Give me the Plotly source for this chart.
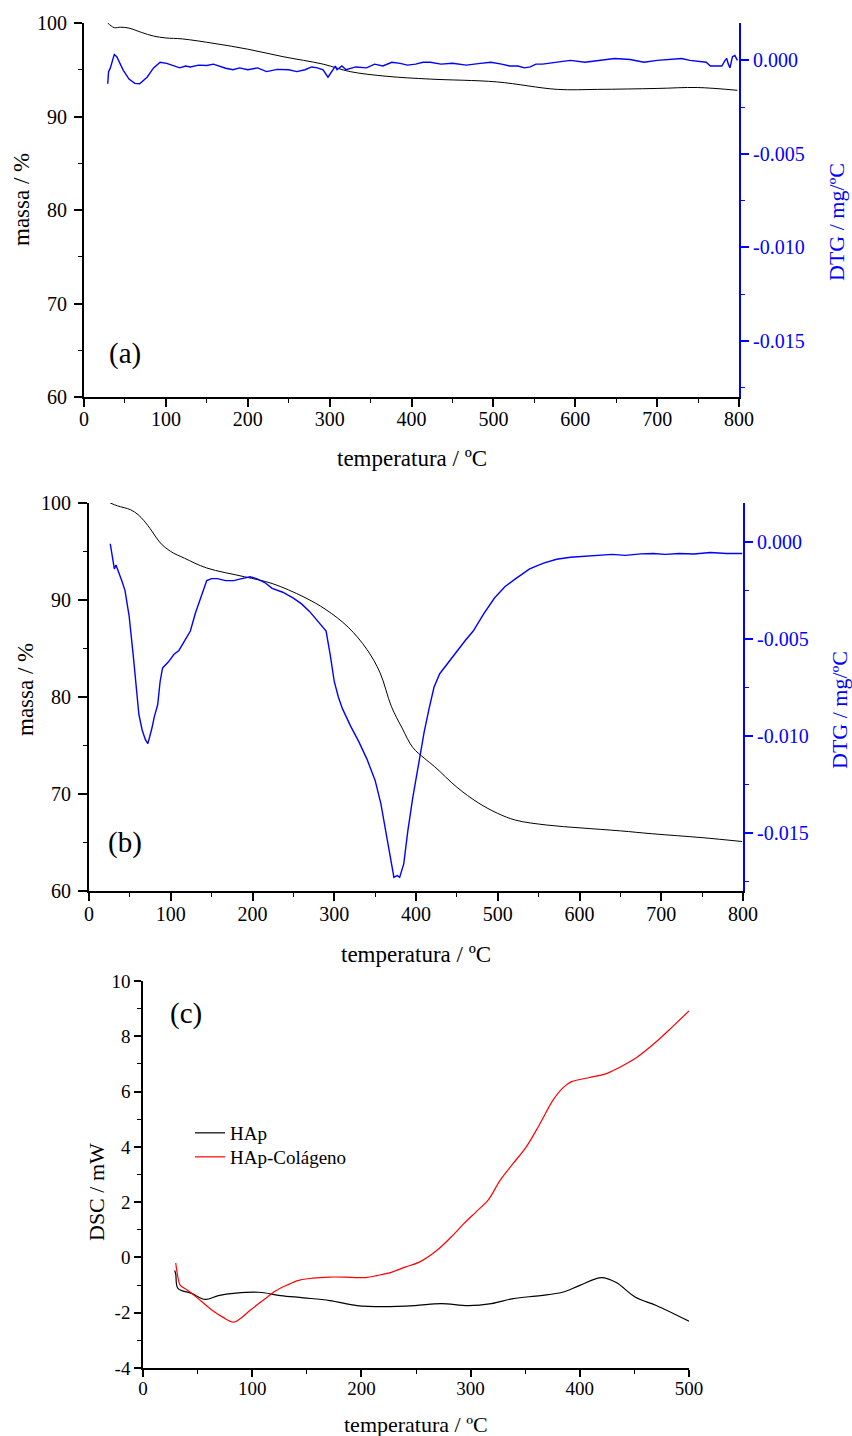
import plotly.graph_objects as go

# ---------------- data ----------------
# Panel (a): HAp TG / DTG
Ta_mass = [29, 33, 37, 45, 55, 70, 85, 100, 120, 160, 200, 243, 292, 325, 370, 423, 504, 578, 627, 700, 749, 798]
Ma = [100.0, 99.7, 99.5, 99.55, 99.45, 99.0, 98.6, 98.4, 98.3, 97.8, 97.2, 96.4, 95.6, 94.8, 94.3, 94.0, 93.7, 92.9, 92.9, 93.0, 93.1, 92.8]
Ta_dtg = [29, 30, 32, 35, 37, 40, 48, 55, 62, 68, 77, 85, 93, 101, 110, 117, 124, 130, 140, 150,
          158, 165, 173, 182, 190, 200, 212, 223, 236, 250, 260, 270, 278, 285, 292, 298, 303, 307, 309, 315,
          320, 332, 345, 355, 365, 376, 386, 395, 405, 414, 423, 436, 450, 467, 484, 497, 510, 520, 530, 538,
          545, 552, 560, 577, 594, 612, 630, 648, 667, 684, 700, 715, 730, 740, 749, 755, 760, 765, 772, 779,
          783, 785, 787, 789, 792, 795, 798]
Da = [-0.00125, -0.0006, -0.00043, 0.0, 0.00032, 0.0002, -0.00053, -0.001, -0.00123, -0.00125,
      -0.0009, -0.0004, -0.0001, -0.00016, -0.0003, -0.0004, -0.0003, -0.00035, -0.00025, -0.00027,
      -0.0002, -0.0003, -0.00042, -0.0005, -0.0004, -0.0005, -0.0004, -0.0006, -0.00048, -0.0005,
      -0.0006, -0.0005, -0.00035, -0.0004, -0.0005, -0.0009, -0.0006, -0.0003, -0.0005, -0.0003,
      -0.0005, -0.00035, -0.0004, -0.0002, -0.0003, -0.0001, -0.00016, -0.00025, -0.0002, -0.0001,
      -0.0001, -0.0002, -0.00015, -0.00025, -0.00016, -0.0001, -0.0002, -0.0003, -0.0003, -0.0004,
      -0.00035, -0.0002, -0.0002, -0.0001, 0.0, -0.0001, 0.0, 0.0001, 0.00005, -0.0001,
      0.0, 0.00005, 0.0001, 0.0, -0.00005, -0.0001, -0.0001, -0.0003, -0.0003, -0.0003,
      0.0, 0.0001, -0.0002, -0.0004, 0.0002, 0.00027, 0.0]

# Panel (b): HAp-Colágeno TG / DTG
Tb_mass = [26, 35, 51, 60, 67, 77, 87, 100, 117, 144, 190, 224, 263, 290, 317, 340, 356, 370, 383, 396,
           410, 423, 450, 476, 500, 522, 560, 602, 650, 689, 750, 799]
Mb = [100.0, 99.7, 99.3, 98.8, 98.2, 97.1, 95.9, 95.0, 94.3, 93.3, 92.4, 91.7, 90.3, 89.0, 87.2, 84.9, 82.5, 79.0, 76.8, 74.8,
      73.7, 72.8, 70.7, 69.1, 68.0, 67.3, 66.8, 66.5, 66.2, 65.9, 65.5, 65.1]
Tb_dtg = [26, 27, 29, 31, 33, 36, 40, 44, 49, 54, 57, 61, 65, 69, 72, 74, 77, 80, 84, 87,
          90, 97, 104, 110, 117, 124, 130, 137, 144, 150, 157, 167, 177, 187, 197, 205, 215, 224, 237, 250,
          260, 270, 280, 290, 295, 300, 305, 310, 320, 330, 340, 350, 357, 363, 368, 373, 377, 380, 385, 390,
          396, 403, 410, 416, 422, 429, 440, 450, 460, 470, 483, 496, 509, 522, 539, 556, 572, 589, 605, 620,
          640, 656, 675, 690, 705, 722, 740, 760, 780, 799]
Db = [-0.0001, -0.0004, -0.001, -0.0014, -0.0012, -0.0015, -0.002, -0.0025, -0.0038, -0.0058,
      -0.0072, -0.0089, -0.0097, -0.0102, -0.0104, -0.0101, -0.0096, -0.009, -0.0084, -0.0072,
      -0.0065, -0.0062, -0.0058, -0.0056, -0.0051, -0.0046, -0.0037, -0.0028, -0.002, -0.0019,
      -0.0019, -0.002, -0.002, -0.0019, -0.0018, -0.0019, -0.0021, -0.0024, -0.0026, -0.0029,
      -0.0032, -0.0036, -0.0041, -0.0046, -0.0058, -0.0072, -0.008, -0.0086, -0.0095, -0.0103,
      -0.0112, -0.0123, -0.0135, -0.0149, -0.016, -0.0173, -0.0172, -0.0173, -0.0166, -0.0149,
      -0.0132, -0.0114, -0.0098, -0.0086, -0.0075, -0.0068, -0.0062, -0.0056, -0.0051, -0.0046,
      -0.0037, -0.0029, -0.0023, -0.0019, -0.0014, -0.0011, -0.0009, -0.0008, -0.00075, -0.0007,
      -0.00065, -0.0007, -0.00062, -0.0006, -0.00065, -0.0006, -0.00063, -0.00055, -0.0006, -0.0006]

# Panel (c): DSC
Tc_hap = [29, 30, 32, 44.5, 57, 69, 85, 106, 126, 147, 171, 196, 220, 249, 273, 298, 319, 339, 364, 384,
          400, 420, 433, 451, 470, 500]
Hap = [-0.47, -0.6, -1.12, -1.3, -1.52, -1.38, -1.29, -1.26, -1.38, -1.46, -1.56, -1.74, -1.78, -1.74, -1.67, -1.74, -1.67, -1.49, -1.38, -1.26,
       -1.01, -0.73, -0.9, -1.44, -1.74, -2.31]
Tc_col = [30, 31, 33, 34, 43, 52.6, 63, 73, 83, 89.5, 97, 106, 114, 122, 132, 142.6, 155, 171, 190, 204,
          215, 228, 240, 253, 269, 282, 294, 305, 316, 327, 339, 351, 363, 375.5, 385, 392, 408, 425, 440, 453,
          470, 485, 500]
Col = [-0.2, -0.5, -0.9, -1.0, -1.25, -1.56, -1.9, -2.16, -2.34, -2.2, -1.95, -1.67, -1.43, -1.2, -1.0, -0.83, -0.75, -0.71, -0.72, -0.73,
       -0.65, -0.53, -0.35, -0.17, 0.25, 0.73, 1.23, 1.65, 2.07, 2.79, 3.4, 4.0, 4.8, 5.69, 6.15, 6.35, 6.5, 6.66, 6.95, 7.26,
       7.8, 8.35, 8.92]

dtg_tickvals = [-0.015, -0.010, -0.005, 0.0]
dtg_ticktext = ["-0.015", "-0.010", "-0.005", "0.000"]
dsc_tickvals = [-4, -2, 0, 2, 4, 6, 8, 10]
dsc_ticktext = ["-4", "-2", "0", "2", "4", "6", "8", "10"]

# ---------------- figure ----------------
W, H = 852, 1436
FONT = "Liberation Serif"
BLUE = "#0000FF"

def px(x):
    return x / W

def py(y):
    return 1 - y / H

fig = go.Figure()

fig.add_trace(go.Scatter(x=Ta_mass, y=Ma, mode="lines", line=dict(color="black", width=1, shape="spline"),
                         xaxis="x", yaxis="y", showlegend=False))
fig.add_trace(go.Scatter(x=Ta_dtg, y=Da, mode="lines", line=dict(color=BLUE, width=1.4),
                         xaxis="x", yaxis="y2", showlegend=False))
fig.add_trace(go.Scatter(x=Tb_mass, y=Mb, mode="lines", line=dict(color="black", width=1, shape="spline"),
                         xaxis="x2", yaxis="y3", showlegend=False))
fig.add_trace(go.Scatter(x=Tb_dtg, y=Db, mode="lines", line=dict(color=BLUE, width=1.4),
                         xaxis="x2", yaxis="y4", showlegend=False))
fig.add_trace(go.Scatter(x=Tc_hap, y=Hap, mode="lines", name="HAp", line=dict(color="black", width=1.2, shape="spline"),
                         xaxis="x3", yaxis="y5", legend="legend"))
fig.add_trace(go.Scatter(x=Tc_col, y=Col, mode="lines", name="HAp-Colágeno", line=dict(color="red", width=1.2, shape="spline"),
                         xaxis="x3", yaxis="y5", legend="legend2"))

def tf(size, color="black"):
    return dict(family=FONT, size=size, color=color)

def xax(domain, anchor, rng, dtick, minor, ticklen, standoff, fs):
    return dict(domain=domain, anchor=anchor, range=rng, tick0=0, dtick=dtick, showgrid=False, zeroline=False,
                automargin=False, ticklabelstandoff=standoff,
                showline=True, linecolor="black", linewidth=2, ticks="outside", ticklen=ticklen, tickwidth=1.5,
                tickcolor="black", tickfont=tf(fs),
                minor=dict(ticks="outside", ticklen=4, tickwidth=1, tickcolor="black", dtick=minor, tick0=0))

def yax(domain, anchor, rng, dtick, minor, ticklen, standoff, fs, lw=2):
    return dict(domain=domain, anchor=anchor, range=rng, tick0=0, dtick=dtick, showgrid=False, zeroline=False,
                automargin=False, ticklabelstandoff=standoff,
                showline=True, linecolor="black", linewidth=lw, ticks="outside", ticklen=ticklen, tickwidth=1.5,
                tickcolor="black", tickfont=tf(fs),
                minor=dict(ticks="outside", ticklen=4, tickwidth=1, tickcolor="black", dtick=minor, tick0=0))

def y2ax(overlay, anchor, fs):
    return dict(overlaying=overlay, anchor=anchor, side="right", range=[-0.018, 0.002],
                tickvals=dtg_tickvals, ticktext=dtg_ticktext, showgrid=False, zeroline=False,
                automargin=False, ticklabelstandoff=0,
                showline=True, linecolor=BLUE, linewidth=2, ticks="outside", ticklen=8, tickwidth=1.5,
                tickcolor=BLUE, tickfont=tf(fs, BLUE),
                minor=dict(ticks="outside", ticklen=4, tickwidth=1, tickcolor=BLUE,
                           tickvals=[-0.0175, -0.0125, -0.0075, -0.0025]))

fig.update_layout(
    width=W, height=H, margin=dict(l=0, r=0, t=0, b=0, autoexpand=False),
    paper_bgcolor="white", plot_bgcolor="white",
    font=dict(family=FONT, size=19, color="black"),
    xaxis=xax([px(84), px(739)], "y", [0, 800], 100, 50, 8, -5, 20),
    yaxis=yax([py(397), py(23)], "x", [60, 100], 10, 5, 8, 3, 20),
    yaxis2=y2ax("y", "x", 20),
    xaxis2=xax([px(89), px(743)], "y3", [0, 800], 100, 50, 8, -4, 20),
    yaxis3=yax([py(891), py(503)], "x2", [60, 100], 10, 5, 9, 3, 20),
    yaxis4=y2ax("y3", "x2", 20),
    xaxis3=xax([px(143), px(689)], "y5", [0, 500], 100, 50, 7, -5, 19),
    yaxis5=dict(yax([py(1368), py(981)], "x3", [-4, 10], 2, 1, 7, 0, 19, lw=1.5),
                tickvals=dsc_tickvals, ticktext=dsc_ticktext),
    legend=dict(x=px(190), y=py(1133), xanchor="left", yanchor="middle", bgcolor="rgba(0,0,0,0)",
                font=tf(19)),
    legend2=dict(x=px(190), y=py(1157), xanchor="left", yanchor="middle", bgcolor="rgba(0,0,0,0)",
                 font=tf(19)),
)

annots = [
    # panel (a)
    dict(x=px(412), y=py(458), text="temperatura / ºC", size=23, color="black", angle=0),
    dict(x=px(21), y=py(200), text="massa / %", size=23, color="black", angle=-90),
    dict(x=px(836), y=py(222), text="DTG / mg/ºC", size=22, color=BLUE, angle=-90),
    dict(x=px(125), y=py(353), text="(a)", size=29, color="black", angle=0),
    # panel (b)
    dict(x=px(416), y=py(954), text="temperatura / ºC", size=23, color="black", angle=0),
    dict(x=px(25), y=py(690), text="massa / %", size=23, color="black", angle=-90),
    dict(x=px(839), y=py(710), text="DTG / mg/ºC", size=22, color=BLUE, angle=-90),
    dict(x=px(125), y=py(842), text="(b)", size=29, color="black", angle=0),
    # panel (c)
    dict(x=px(416), y=py(1424), text="temperatura / ºC", size=22, color="black", angle=0),
    dict(x=px(96), y=py(1192), text="DSC / mW", size=22, color="black", angle=-90),
    dict(x=px(186), y=py(1013), text="(c)", size=29, color="black", angle=0),
]
for a in annots:
    fig.add_annotation(x=a["x"], y=a["y"], xref="paper", yref="paper", text=a["text"], showarrow=False,
                       textangle=a["angle"], xanchor="center", yanchor="middle",
                       font=dict(family=FONT, size=a["size"], color=a["color"]))

fig.write_html(
    "out.html",
    config={"displayModeBar": False},
    post_script="document.body.style.margin='0';document.body.style.padding='0';"
                "document.body.style.overflow='hidden';document.documentElement.style.overflow='hidden';",
)
